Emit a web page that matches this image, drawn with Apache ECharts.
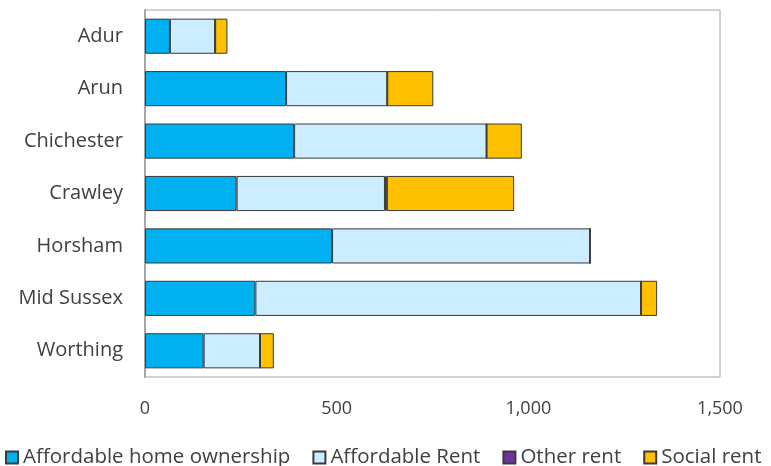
<!DOCTYPE html>
<html><head><meta charset="utf-8">
<script src="https://cdn.jsdelivr.net/npm/echarts@6/dist/echarts.min.js"></script>
<style>html,body{margin:0;padding:0;background:#fff}#c{width:771px;height:466px}</style>
</head><body><div id="c"></div>
<script>
const categories = ['Adur','Arun','Chichester','Crawley','Horsham','Mid Sussex','Worthing'];
const affordableHomeOwnership = [65, 368, 389, 239, 488, 288, 153];
const affordableRent = [118, 264, 502, 387, 673, 1006, 147];
const otherRent = [0, 0, 0, 5, 0, 0, 0];
const socialRent = [32, 120, 92, 332, 0, 42, 36];
const xTicks = [0, 500, 1000, 1500];

const font = '"Open Sans", sans-serif';
const border = { borderColor: '#3a3a3a', borderWidth: 1 };
function mk(name, data, color) {
  return { name, type: 'bar', stack: 'total', data, barCategoryGap: '33%',
    itemStyle: Object.assign({ color }, border) };
}
const chart = echarts.init(document.getElementById('c'), null, { renderer: 'canvas' });
chart.setOption({
  animation: false,
  grid: { left: 145, right: 51, top: 10, bottom: 89, show: true, borderColor: '#a6a6a6', borderWidth: 1 },
  xAxis: { type: 'value', min: xTicks[0], max: xTicks[xTicks.length-1], interval: 500,
    axisLine: { show: false }, axisTick: { show: false }, splitLine: { show: false },
    axisLabel: { color: '#404040', fontFamily: font, fontSize: 18, margin: 23,
      formatter: v => v.toLocaleString('en-US') } },
  yAxis: { type: 'category', data: categories, inverse: true,
    axisLine: { show: true, lineStyle: { color: '#a6a6a6', width: 2 } }, axisTick: { show: false },
    axisLabel: { color: '#404040', fontFamily: font, fontSize: 20, margin: 22 } },
  legend: { left: 0, top: 442, itemWidth: 12, itemHeight: 12, itemGap: 22,
    textStyle: { color: '#404040', fontFamily: font, fontSize: 20.5 },
    data: ['Affordable home ownership','Affordable Rent','Other rent','Social rent'].map(n => ({ name: n, icon: 'rect' })) },
  series: [
    mk('Affordable home ownership', affordableHomeOwnership, '#00B0F0'),
    mk('Affordable Rent', affordableRent, '#CCECFF'),
    mk('Other rent', otherRent, '#7030A0'),
    mk('Social rent', socialRent, '#FFC000')
  ]
});
</script></body></html>
